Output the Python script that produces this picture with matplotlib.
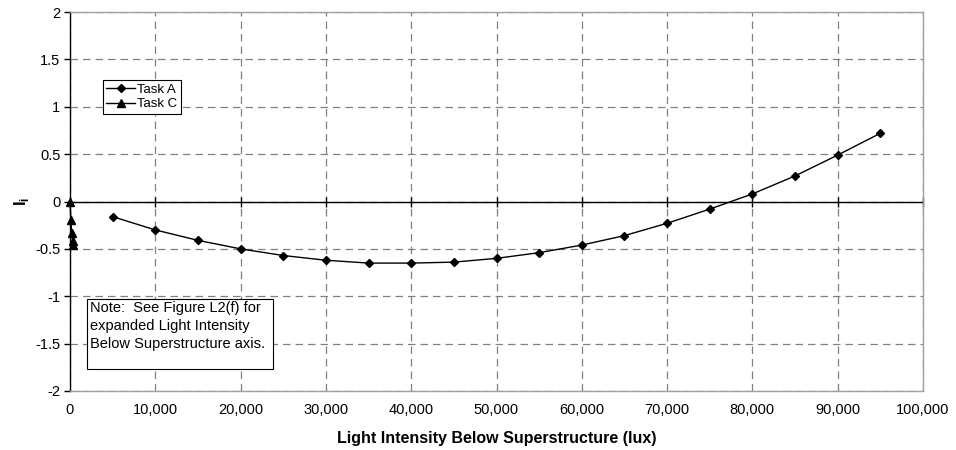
import matplotlib
matplotlib.use("Agg")
import matplotlib.pyplot as plt
from matplotlib.patches import Rectangle

plt.rcParams['font.family'] = ['Liberation Sans', 'DejaVu Sans']

# Task A
task_a_x = [5000, 10000, 15000, 20000, 25000, 30000, 35000, 40000, 45000, 50000,
            55000, 60000, 65000, 70000, 75000, 80000, 85000, 90000, 95000]
task_a_y = [-0.16, -0.30, -0.41, -0.50, -0.57, -0.62, -0.65, -0.65, -0.64, -0.60,
            -0.54, -0.46, -0.36, -0.23, -0.08, 0.08, 0.27, 0.49, 0.72]

# Task C (very low light range)
task_c_x = [0, 100, 200, 300, 400]
task_c_y = [0, -0.19, -0.33, -0.42, -0.46]

xticks = list(range(0, 100001, 10000))
yticks = [-2, -1.5, -1, -0.5, 0, 0.5, 1, 1.5, 2]

W, H = 956, 450
L, R, T, B = 70, 923, 12, 391

fig = plt.figure(figsize=(W / 100, H / 100), dpi=100)
ax = fig.add_axes([L / W, 1 - B / H, (R - L) / W, (B - T) / H])

ax.set_xlim(0, 100000)
ax.set_ylim(-2, 2)
ax.set_xticks(xticks)
ax.set_yticks(yticks)
ax.set_xticklabels(['{:,}'.format(v) for v in xticks], fontsize=10.5)
ax.set_yticklabels(['{:g}'.format(v) for v in yticks], fontsize=10.5)

for s in ['top', 'right', 'bottom']:
    ax.spines[s].set_color('#a0a0a0')
    ax.spines[s].set_linewidth(1.0)
ax.spines['left'].set_linewidth(1.0)
ax.tick_params(axis='y', direction='out', length=4, width=1, pad=3)
ax.tick_params(axis='x', length=0, pad=9)

ax.grid(True, color='#808080', linestyle=(0, (6, 4)), linewidth=0.9)
ax.set_axisbelow(True)

# horizontal axis line at zero with cross ticks
ax.axhline(0, color='black', linewidth=1.0, zorder=2)
ax.plot(xticks, [0] * len(xticks), linestyle='none', marker='|', markersize=7,
        color='black', markeredgewidth=1.0, zorder=2, clip_on=False)

ax.plot(task_a_x, task_a_y, color='black', linewidth=1.0, marker='D',
        markersize=4, label='Task A', zorder=3)
ax.plot(task_c_x, task_c_y, color='black', linewidth=1.0, marker='^',
        markersize=5.5, label='Task C', zorder=3, clip_on=False)

leg = ax.legend(loc='upper left', bbox_to_anchor=((103 - L) / (R - L), 1 - (80 - T) / (B - T)),
                fontsize=9.5, frameon=True, fancybox=False, borderpad=0.25,
                handlelength=2.2, handletextpad=0.15, labelspacing=0.2,
                borderaxespad=0, framealpha=1)
leg.get_frame().set_edgecolor('black')
leg.get_frame().set_linewidth(0.8)

# note box
bx0, bx1, by0, by1 = 87, 273, 299, 369
ax.add_patch(Rectangle(((bx0 - L) / (R - L), 1 - (by1 - T) / (B - T)),
                       (bx1 - bx0) / (R - L), (by1 - by0) / (B - T),
                       transform=ax.transAxes, facecolor='white', edgecolor='black',
                       linewidth=0.8, zorder=4))
ax.text((bx0 + 3 - L) / (R - L), 1 - (by0 + 2 - T) / (B - T),
        'Note:  See Figure L2(f) for\nexpanded Light Intensity\nBelow Superstructure axis.',
        transform=ax.transAxes, fontsize=10.5, va='top', ha='left',
        linespacing=1.35, zorder=5)

ax.set_xlabel('Light Intensity Below Superstructure (lux)', fontsize=11.5,
              fontweight='bold', labelpad=10)
ax.set_ylabel(r'I$_\mathregular{i}$', fontsize=12, fontweight='bold', labelpad=3,
              rotation=90)

fig.savefig('out.png', dpi=100)
